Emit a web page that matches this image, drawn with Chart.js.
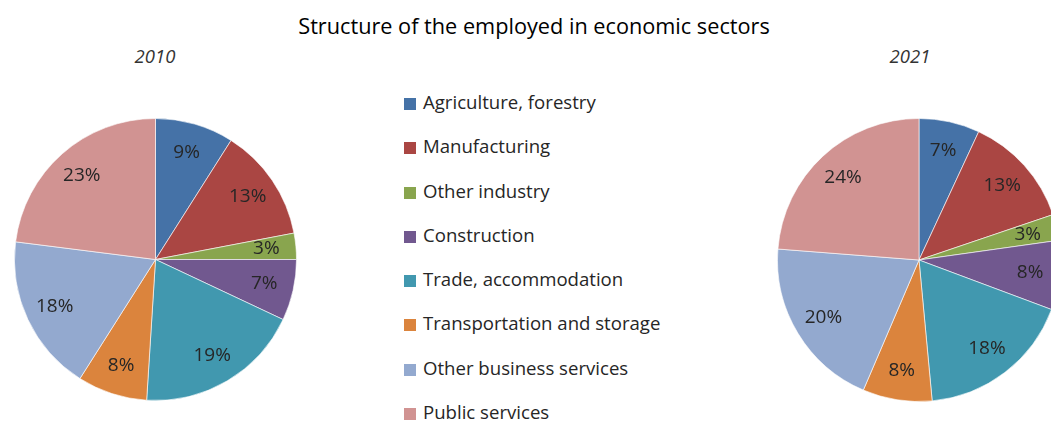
<!DOCTYPE html>
<html>
<head>
<meta charset="utf-8">
<script src="https://cdn.jsdelivr.net/npm/chart.js@4.4.1/dist/chart.umd.min.js"></script>
<style>
  body { margin: 0; background: #fff; }
  #wrap { position: relative; width: 1051px; height: 421px; overflow: hidden; font-family: "Open Sans", "Noto Sans", sans-serif; color: #262626; }
  #title { position: absolute; left: 0; width: 1068px; top: 12px; text-align: center; font-size: 21.7px; color: #000; line-height: 28px; }
  .year { position: absolute; top: 44px; width: 100px; text-align: center; font-size: 18.5px; font-style: italic; line-height: 24px; color: #333; }
  .pie { position: absolute; }
  #legend { position: absolute; left: 404px; top: 88px; }
  #legend div { height: 44.3px; line-height: 28px; font-size: 18.6px; white-space: nowrap; }
  #legend span { display: inline-block; width: 12px; height: 12px; margin-right: 7px; vertical-align: -1px; }
</style>
</head>
<body>
<div id="wrap">
  <div id="title">Structure of the employed in economic sectors</div>
  <div class="year" style="left:105px">2010</div>
  <div class="year" style="left:860px">2021</div>
  <div class="pie" style="left:14px;top:118px;width:283px;height:283px"><canvas id="pie2010"></canvas></div>
  <div class="pie" style="left:777px;top:118px;width:284px;height:284px"><canvas id="pie2021"></canvas></div>
  <div id="legend"></div>
</div>
<script>
const sectors = [
  'Agriculture, forestry',
  'Manufacturing',
  'Other industry',
  'Construction',
  'Trade, accommodation',
  'Transportation and storage',
  'Other business services',
  'Public services'
];
const share2010 = [9, 13, 3, 7, 19, 8, 18, 23];
const share2021 = [7, 13, 3, 8, 18, 8, 20, 24];
const colors = ['#4572A7', '#AA4643', '#89A54E', '#71588F', '#4198AF', '#DB843D', '#93A9CF', '#D19392'];

// legend built from the same arrays
const legend = document.getElementById('legend');
sectors.forEach((name, i) => {
  const row = document.createElement('div');
  row.innerHTML = `<span style="background:${colors[i]}"></span>${name}`;
  legend.appendChild(row);
});

// percentage labels inside the slices
const sliceLabels = {
  id: 'sliceLabels',
  afterDatasetsDraw(chart) {
    const ctx = chart.ctx;
    const data = chart.data.datasets[0].data;
    ctx.save();
    ctx.font = '19px "Open Sans", "Noto Sans", sans-serif';
    ctx.fillStyle = '#262626';
    ctx.textAlign = 'center';
    ctx.textBaseline = 'middle';
    chart.getDatasetMeta(0).data.forEach((arc, i) => {
      const p = arc.getProps(['x', 'y', 'startAngle', 'endAngle', 'outerRadius'], true);
      const mid = (p.startAngle + p.endAngle) / 2;
      const r = p.outerRadius * 0.79;
      ctx.fillText(data[i] + '%', p.x + Math.cos(mid) * r, p.y + Math.sin(mid) * r);
    });
    ctx.restore();
  }
};

function makePie(id, values) {
  new Chart(document.getElementById(id), {
    type: 'pie',
    data: {
      labels: sectors,
      datasets: [{
        data: values,
        backgroundColor: colors,
        borderColor: 'rgba(255,255,255,0.6)',
        borderWidth: 1,
        hoverOffset: 0,
        offset: 0
      }]
    },
    options: {
      responsive: true,
      maintainAspectRatio: false,
      animation: false,
      layout: { padding: 0 },
      plugins: {
        legend: { display: false },
        tooltip: { enabled: false }
      }
    },
    plugins: [sliceLabels]
  });
}

makePie('pie2010', share2010);
makePie('pie2021', share2021);
</script>
</body>
</html>
